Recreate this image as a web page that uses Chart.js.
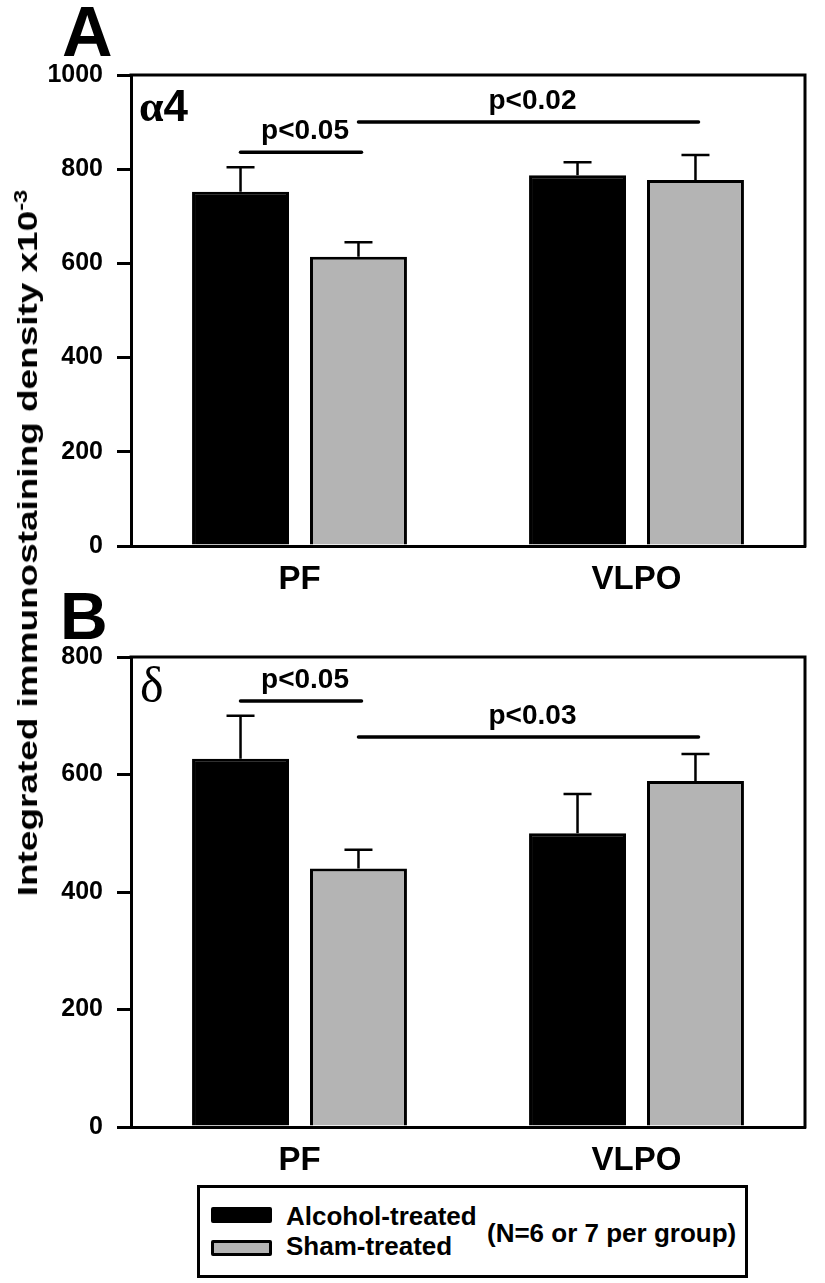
<!DOCTYPE html>
<html>
<head>
<meta charset="utf-8">
<script src="https://cdn.jsdelivr.net/npm/chart.js@4.4.1/dist/chart.umd.min.js"></script>
<style>
  html,body{margin:0;padding:0;background:#fff;}
  body{width:825px;height:1283px;position:relative;overflow:hidden;font-family:"Liberation Sans",Arial,sans-serif;color:#000;}
  canvas{position:absolute;left:0;}
  .lbl{position:absolute;font-weight:bold;white-space:nowrap;line-height:1;}
  #ytitle{position:absolute;left:27px;top:543px;font-weight:bold;font-size:28px;white-space:nowrap;line-height:1;}
  #ytitle sup{font-size:18px;vertical-align:10px;}
  #legend{position:absolute;left:197px;top:1185px;width:551px;height:93px;box-sizing:border-box;border:3px solid #000;}
  .sw{position:absolute;left:11px;width:61px;height:16px;box-sizing:border-box;border:3px solid #000;border-radius:2px;}
  .lt{position:absolute;font-weight:bold;font-size:26px;white-space:nowrap;line-height:1;}
</style>
</head>
<body>
<canvas id="cA" width="825" height="600" style="top:0px"></canvas>
<canvas id="cB" width="825" height="581" style="top:600px"></canvas>

<div class="lbl" style="left:62px;top:-3px;font-size:70px;">A</div>
<div class="lbl" style="left:60px;top:583px;font-size:66px;">B</div>
<div class="lbl" style="left:139px;top:84px;font-size:44px;"><span style="font-family:'Liberation Serif',serif;font-weight:bold;">α</span>4</div>
<div class="lbl" style="left:140px;top:660px;font-size:50px;font-family:'Liberation Serif',serif;font-weight:normal;">δ</div>

<div id="ytitle">Integrated immunostaining density x10<sup>-3</sup></div>
<div id="legend"></div>

<script>
// ---- data ----
const categories = ['PF', 'VLPO'];
const seriesNames = ['Alcohol-treated', 'Sham-treated'];
const seriesColors = ['#000000', '#b4b4b4'];
const legendNote = '(N=6 or 7 per group)';

// Panel A (alpha4)
const alphaAlcohol    = [752, 787];
const alphaAlcoholErr = [52, 28];
const alphaSham       = [614, 777];
const alphaShamErr    = [31, 53];
const alphaYMax = 1000;
const alphaYStep = 200;

// Panel B (delta)
const deltaAlcohol    = [627, 500];
const deltaAlcoholErr = [73, 67];
const deltaSham       = [440, 589];
const deltaShamErr    = [32, 46];
const deltaYMax = 800;
const deltaYStep = 200;

// significance brackets: [datasetA, categoryA, datasetB, categoryB, yValue, label]
const sigA = [[0, 0, 1, 0, 836, 'p<0.05'], [1, 0, 1, 1, 900, 'p<0.02']];
const sigB = [[0, 0, 1, 0, 725, 'p<0.05'], [1, 0, 1, 1, 664, 'p<0.03']];

// ---- plugin: error bars, significance lines, frame ----
const annotPlugin = {
  id: 'annot',
  afterDatasetsDraw(chart, args, opts) {
    const ctx = chart.ctx;
    const y = chart.scales.y;
    const a = chart.chartArea;
    ctx.save();
    ctx.strokeStyle = '#000';
    // error bars
    ctx.lineWidth = 2.5;
    ctx.lineCap = 'butt';
    chart.data.datasets.forEach((ds, di) => {
      const meta = chart.getDatasetMeta(di);
      meta.data.forEach((bar, i) => {
        const top = y.getPixelForValue(ds.data[i]);
        const e = y.getPixelForValue(ds.data[i] + ds.err[i]);
        ctx.beginPath();
        ctx.moveTo(bar.x, top);
        ctx.lineTo(bar.x, e);
        ctx.moveTo(bar.x - 14, e);
        ctx.lineTo(bar.x + 14, e);
        ctx.stroke();
      });
    });
    // significance
    ctx.lineWidth = 3.5;
    ctx.lineCap = 'round';
    ctx.fillStyle = '#000';
    ctx.font = 'bold 28px "Liberation Sans", Arial, sans-serif';
    ctx.textAlign = 'center';
    ctx.textBaseline = 'middle';
    (opts.sig || []).forEach(s => {
      const x1 = chart.getDatasetMeta(s[0]).data[s[1]].x;
      const x2 = chart.getDatasetMeta(s[2]).data[s[3]].x + 3;
      const yy = y.getPixelForValue(s[4]);
      ctx.beginPath();
      ctx.moveTo(x1, yy);
      ctx.lineTo(x2, yy);
      ctx.stroke();
      ctx.fillText(s[5], (x1 + x2) / 2 + 4, yy - 21);
    });
    // frame (top & right)
    ctx.lineWidth = 3;
    ctx.lineCap = 'square';
    ctx.beginPath();
    ctx.moveTo(a.left, a.top);
    ctx.lineTo(a.right, a.top);
    ctx.lineTo(a.right, a.bottom);
    ctx.stroke();
    ctx.restore();
  }
};

function makeChart(id, alc, alcErr, sham, shamErr, ymax, ystep, sig, padTop) {
  return new Chart(document.getElementById(id), {
    type: 'bar',
    data: {
      labels: categories,
      datasets: [
        { label: seriesNames[0], data: alc, err: alcErr, backgroundColor: seriesColors[0], borderColor: '#000', borderWidth: 3 },
        { label: seriesNames[1], data: sham, err: shamErr, backgroundColor: seriesColors[1], borderColor: '#000', borderWidth: 3 }
      ]
    },
    options: {
      responsive: false,
      animation: false,
      devicePixelRatio: 1,
      layout: { padding: { top: padTop, right: 20, left: 0, bottom: 0 } },
      plugins: { legend: { display: false }, tooltip: { enabled: false }, annot: { sig: sig } },
      datasets: { bar: { categoryPercentage: 0.70, barPercentage: 0.822, borderSkipped: 'start' } },
      scales: {
        x: {
          grid: { display: false, drawTicks: false },
          border: { display: true, color: '#000', width: 3 },
          ticks: { color: '#000', padding: 14, font: { family: '"Liberation Sans", Arial, sans-serif', size: 33, weight: 'bold' } },
          afterFit(s) { s.height = 54; }
        },
        y: {
          min: 0, max: ymax,
          ticks: { stepSize: ystep, color: '#000', padding: 14, callback: v => String(v), font: { family: '"Liberation Sans", Arial, sans-serif', size: 25, weight: 'bold' } },
          grid: { drawOnChartArea: false, drawTicks: true, tickLength: 14, lineWidth: 3, color: '#000' },
          border: { display: true, color: '#000', width: 3 },
          afterFit(s) { s.width = 131; }
        }
      }
    },
    plugins: [annotPlugin]
  });
}

makeChart('cA', alphaAlcohol, alphaAlcoholErr, alphaSham, alphaShamErr, alphaYMax, alphaYStep, sigA, 75);
makeChart('cB', deltaAlcohol, deltaAlcoholErr, deltaSham, deltaShamErr, deltaYMax, deltaYStep, sigB, 57);

// y title scaling
const yt = document.getElementById('ytitle');
const w = yt.offsetWidth;
yt.style.transform = 'translate(-50%,-50%) rotate(-90deg) scaleX(' + (707 / w) + ')';

// legend
const lg = document.getElementById('legend');
const swTops = [19, 52];
const txtTops = [15, 45];
seriesNames.forEach((n, i) => {
  const sw = document.createElement('div');
  sw.className = 'sw';
  sw.style.top = swTops[i] + 'px';
  sw.style.background = seriesColors[i];
  lg.appendChild(sw);
  const t = document.createElement('div');
  t.className = 'lt';
  t.style.left = '86px';
  t.style.top = txtTops[i] + 'px';
  t.textContent = n;
  lg.appendChild(t);
});
const note = document.createElement('div');
note.className = 'lt';
note.style.left = '287px';
note.style.top = '32px';
note.textContent = legendNote;
lg.appendChild(note);
</script>
</body>
</html>
